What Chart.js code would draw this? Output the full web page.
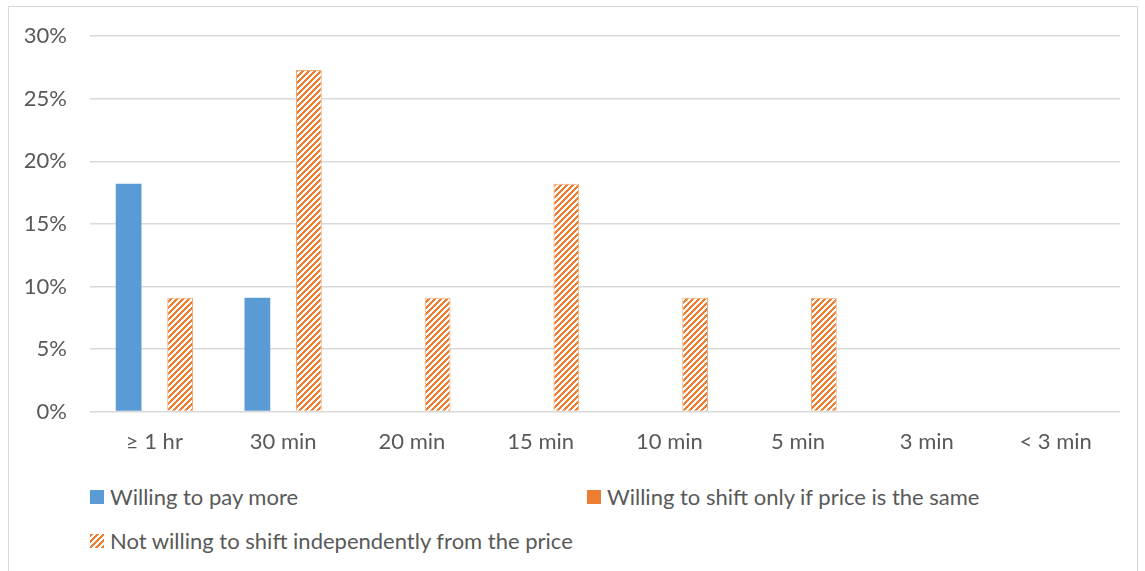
<!DOCTYPE html>
<html>
<head>
<meta charset="utf-8">
<script src="https://cdn.jsdelivr.net/npm/chart.js@4"></script>
<style>
  body { margin: 0; background: #fff; font-family: Lato, sans-serif; }
  #wrap { position: relative; width: 1145px; height: 571px; overflow: hidden; }
  #frame { position: absolute; left: 8px; top: 6px; width: 1130px; height: 600px; border: 1px solid #d9d9d9; box-sizing: border-box; }
  #chartBox { position: absolute; left: 0; top: 0; width: 1145px; height: 464px; }
  .leg { position: absolute; font-size: 22px; color: #595959; white-space: nowrap; line-height: 26px; }
  .leg canvas, .leg span.box { position: absolute; left: 0; top: 6px; width: 14px; height: 14px; }
  .leg .txt { position: absolute; left: 20px; top: 0; }
</style>
</head>
<body>
<div id="wrap">
  <div id="frame"></div>
  <div id="chartBox"><canvas id="myChart"></canvas></div>
  <div class="leg" style="left:90px; top:484px;"><span class="box" style="background:#5B9BD5"></span><span class="txt">Willing to pay more</span></div>
  <div class="leg" style="left:587px; top:484px;"><span class="box" style="background:#ED7D31"></span><span class="txt">Willing to shift only if price is the same</span></div>
  <div class="leg" style="left:90px; top:528px;"><canvas id="hatchBox" width="14" height="14"></canvas><span class="txt">Not willing to shift independently from the price</span></div>
</div>
<script>
const categories = ['≥ 1 hr', '30 min', '20 min', '15 min', '10 min', '5 min', '3 min', '< 3 min'];
const payMore = [18.2, 9.1, 0, 0, 0, 0, 0, 0];
const shiftSamePrice = [0, 0, 0, 0, 0, 0, 0, 0];
const notWilling = [9.1, 27.3, 9.1, 18.2, 9.1, 9.1, 0, 0];
const seriesNames = ['Willing to pay more', 'Willing to shift only if price is the same', 'Not willing to shift independently from the price'];

const blue = '#5B9BD5';
const orange = '#ED7D31';

// upward diagonal hatch, pixel by pixel so it stays crisp
function drawHatch(ctx, w, h) {
    ctx.fillStyle = '#fff';
    ctx.fillRect(0, 0, w, h);
    ctx.fillStyle = orange;
    for (let y = 0; y < h; y++) {
        for (let x = 0; x < w; x++) {
            if ((x + y) % 6 < 3) ctx.fillRect(x, y, 1, 1);
        }
    }
}

const tile = document.createElement('canvas');
tile.width = 6;
tile.height = 6;
drawHatch(tile.getContext('2d'), 6, 6);

drawHatch(document.getElementById('hatchBox').getContext('2d'), 14, 14);

var ctx = document.getElementById('myChart').getContext('2d');
const hatch = ctx.createPattern(tile, 'repeat');

var myChart = new Chart(ctx, {
    type: 'bar',
    data: {
        labels: categories,
        datasets: [
            { label: seriesNames[0], data: payMore, backgroundColor: blue, borderWidth: 0 },
            { label: seriesNames[1], data: shiftSamePrice, backgroundColor: orange, borderWidth: 0 },
            { label: seriesNames[2], data: notWilling, backgroundColor: hatch, borderColor: '#F4A878', borderWidth: 1 }
        ]
    },
    options: {
        responsive: true,
        maintainAspectRatio: false,
        animation: false,
        layout: { padding: { left: 0, right: 25, top: 25, bottom: 0 } },
        plugins: { legend: { display: false }, tooltip: { enabled: false } },
        datasets: { bar: { categoryPercentage: 0.6, barPercentage: 1.0 } },
        scales: {
            x: {
                grid: { display: false },
                border: { display: false },
                ticks: { color: '#595959', font: { family: 'Lato', size: 22 }, padding: 9, maxRotation: 0 }
            },
            y: {
                min: 0,
                max: 30,
                grid: { color: '#d9d9d9', lineWidth: 1.5, drawTicks: false },
                border: { display: false },
                ticks: {
                    stepSize: 5,
                    color: '#595959',
                    font: { family: 'Lato', size: 22 },
                    padding: 23,
                    callback: v => v + '%'
                },
                afterFit: s => { s.width = 90; }
            }
        }
    }
});
</script>
</body>
</html>
